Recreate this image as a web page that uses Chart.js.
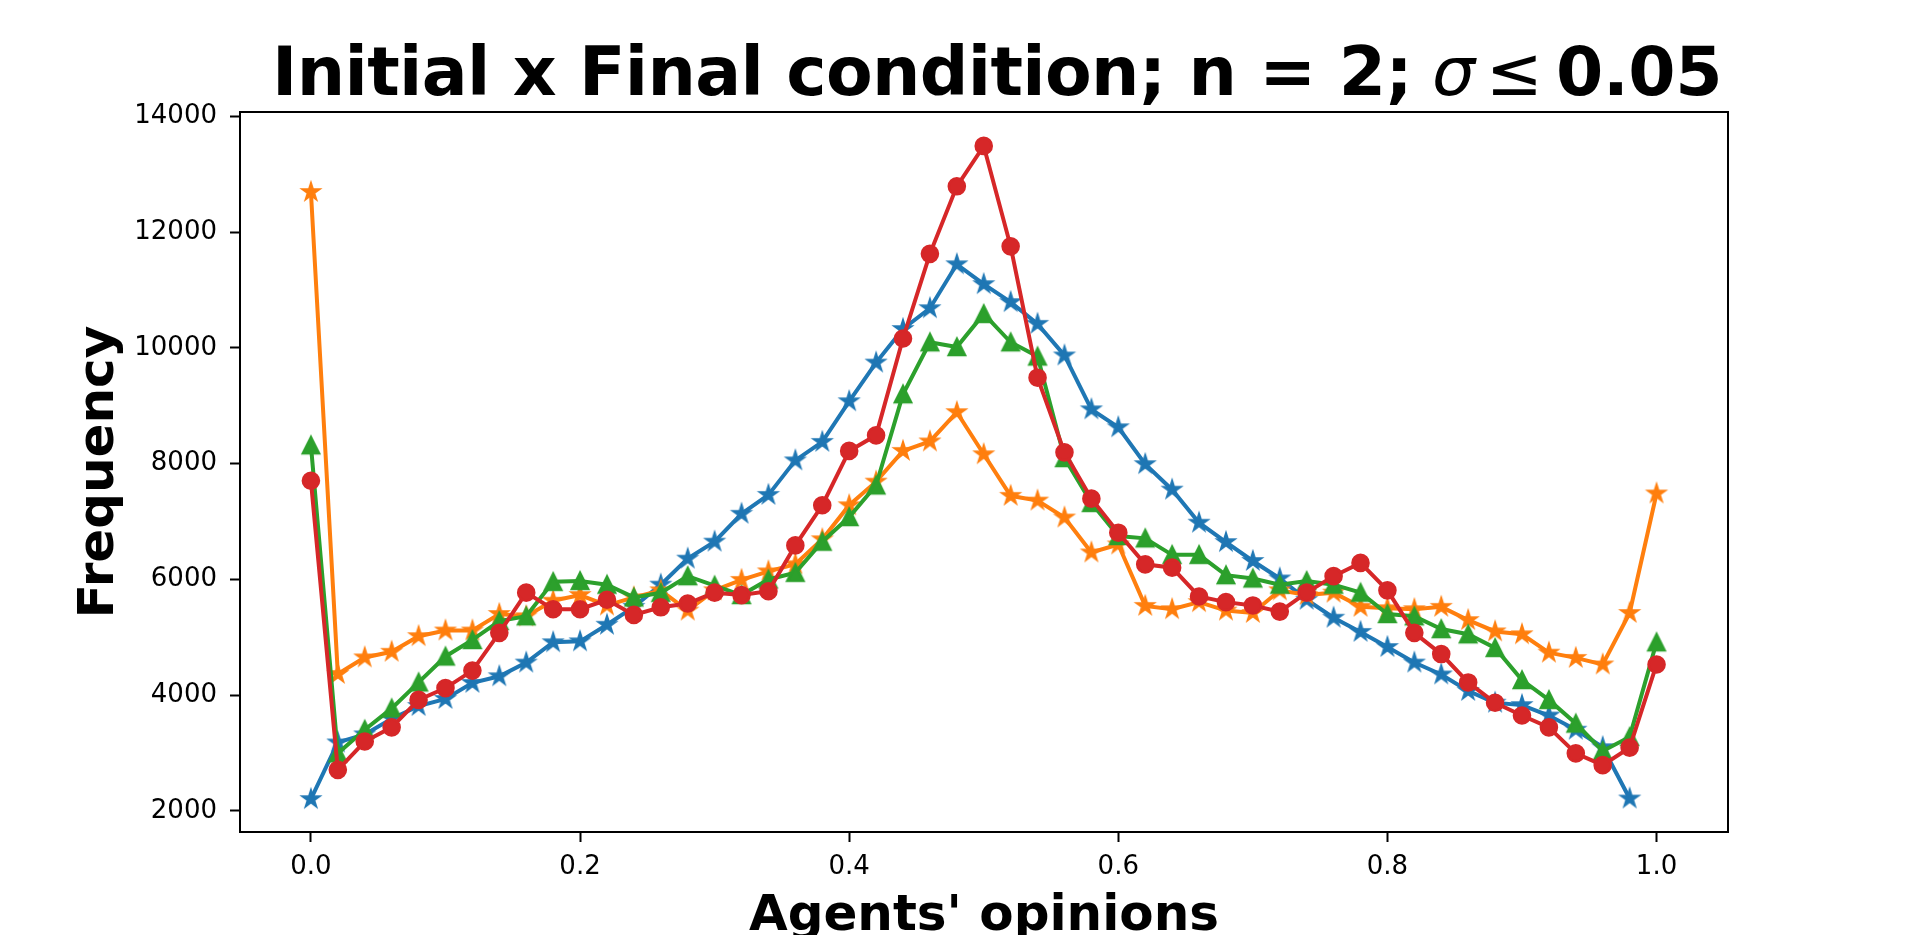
<!DOCTYPE html>
<html>
<head>
<meta charset="utf-8">
<title>Initial x Final condition</title>
<script src="https://cdn.jsdelivr.net/npm/chart.js@4.4.1/dist/chart.umd.min.js"></script>
<style>
  html, body { margin: 0; padding: 0; background: #fff; }
  canvas { display: block; }
</style>
</head>
<body>
<canvas id="myChart" width="1920" height="935"></canvas>
<script>
// bins of the opinion histogram
const opinions = [0.00, 0.02, 0.04, 0.06, 0.08, 0.10, 0.12, 0.14, 0.16, 0.18,
    0.20, 0.22, 0.24, 0.26, 0.28, 0.30, 0.32, 0.34, 0.36, 0.38,
    0.40, 0.42, 0.44, 0.46, 0.48, 0.50, 0.52, 0.54, 0.56, 0.58,
    0.60, 0.62, 0.64, 0.66, 0.68, 0.70, 0.72, 0.74, 0.76, 0.78,
    0.80, 0.82, 0.84, 0.86, 0.88, 0.90, 0.92, 0.94, 0.96, 0.98, 1.00];

const blueFreq = [2205, 3184, 3323, 3592, 3813, 3935, 4213, 4327, 4564, 4915,
    4931, 5217, 5527, 5910, 6359, 6653, 7135, 7461, 8057, 8376,
    9078, 9747, 10327, 10686, 11445, 11102, 10792, 10416, 9870, 8939,
    8629, 7992, 7551, 6980, 6645, 6319, 6017, 5649, 5339, 5094,
    4833, 4564, 4359, 4074, 3870, 3829, 3649, 3404, 3102, 2215, null];

const orangeFreq = [12694, 4367, 4653, 4751, 5020, 5118, 5118, 5404, 5364, 5633,
    5731, 5551, 5690, 5812, 5462, 5812, 5992, 6139, 6262, 6694,
    7282, 7690, 8221, 8384, 8890, 8163, 7445, 7363, 7070, 6466,
    6604, 5543, 5486, 5608, 5462, 5421, 5812, 5731, 5772, 5527,
    5503, 5486, 5527, 5298, 5102, 5053, 4735, 4645, 4531, 5421, 7486];

const greenFreq = [8318, 2996, 3404, 3772, 4221, 4670, 4955, 5282, 5364, 5959,
    5975, 5910, 5690, 5770, 6057, 5894, 5731, 6000, 6115, 6653,
    7078, 7625, 9200, 10098, 10016, 10588, 10098, 9853, 8098, 7323,
    6751, 6710, 6425, 6425, 6074, 6017, 5910, 5975, 5910, 5772,
    5404, 5364, 5143, 5053, 4817, 4262, 3919, 3511, 3037, 3280, 4915];

const redFreq = [7706, 2711, 3200, 3445, 3919, 4123, 4425, 5078, 5772, 5486,
    5486, 5649, 5388, 5519, 5584, 5772, 5730, 5796, 6588, 7282,
    8221, 8490, 10163, 11625, 12792, 13490, 11755, 9486, 8196, 7396,
    6808, 6261, 6204, 5706, 5608, 5551, 5445, 5772, 6057, 6286,
    5812, 5078, 4711, 4221, 3870, 3649, 3445, 2996, 2792, 3094, 4531];

const xTicks = [0.0, 0.2, 0.4, 0.6, 0.8, 1.0];
const xTickLabels = ['0.0', '0.2', '0.4', '0.6', '0.8', '1.0'];
const yTicks = [2000, 4000, 6000, 8000, 10000, 12000, 14000];

const colors = {
    blue: '#1f77b4',
    orange: '#ff7f0e',
    green: '#2ca02c',
    red: '#d62728',
};

// matplotlib-like '*' marker
function starMarker(color) {
    const c = document.createElement('canvas');
    c.width = 32;
    c.height = 32;
    const g = c.getContext('2d');
    g.translate(16, 16);
    g.beginPath();
    for (let k = 0; k < 10; k++) {
        const r = k % 2 === 0 ? 8 : 8 * 0.381966;
        const a = -Math.PI / 2 + k * Math.PI / 5;
        if (k === 0) g.moveTo(r * Math.cos(a), r * Math.sin(a));
        else g.lineTo(r * Math.cos(a), r * Math.sin(a));
    }
    g.closePath();
    g.fillStyle = color;
    g.fill();
    g.lineWidth = 2.6;
    g.lineJoin = 'miter';
    g.strokeStyle = color;
    g.stroke();
    return c;
}

// matplotlib-like '^' marker
function triangleMarker(color) {
    const c = document.createElement('canvas');
    c.width = 32;
    c.height = 32;
    const g = c.getContext('2d');
    g.translate(16, 16);
    g.beginPath();
    g.moveTo(0, -8);
    g.lineTo(-8, 8);
    g.lineTo(8, 8);
    g.closePath();
    g.fillStyle = color;
    g.fill();
    g.lineWidth = 2.6;
    g.lineJoin = 'miter';
    g.strokeStyle = color;
    g.stroke();
    return c;
}

function toPoints(values) {
    return opinions.map((x, i) => ({ x: x, y: values[i] }));
}

function makeDataset(values, color, marker, order) {
    const ds = {
        data: toPoints(values),
        borderColor: color,
        backgroundColor: color,
        borderWidth: 4,
        pointBackgroundColor: color,
        pointBorderColor: color,
        tension: 0,
        fill: false,
        spanGaps: false,
        order: order,
    };
    if (marker === 'circle') {
        ds.pointStyle = 'circle';
        ds.pointRadius = 8;
        ds.pointBorderWidth = 2.6;
    } else {
        ds.pointStyle = marker;
        ds.pointRadius = 9;
        ds.pointBorderWidth = 0;
    }
    return ds;
}

// title pieces: text, font, space before, wanted advance (0 = natural)
const titleParts = [
    { text: 'Initial x Final condition; n = 2;', font: 'bold 68px "DejaVu Sans"', before: 0, fit: 1140 },
    { text: 'σ', font: 'oblique 68px "DejaVu Sans"', before: 20, fit: 0 },
    { text: '≤', font: '68px "DejaVu Sans"', before: 11, fit: 0 },
    { text: '0.05', font: 'bold 68px "DejaVu Sans"', before: 13, fit: 166 },
];

const titlePlugin = {
    id: 'mplTitle',
    afterDraw(chart) {
        const ctx = chart.ctx;
        ctx.save();
        ctx.fillStyle = '#000';
        ctx.textBaseline = 'alphabetic';
        ctx.textAlign = 'left';
        let x = chart.chartArea.left + 32;
        titleParts.forEach(part => {
            ctx.font = part.font;
            ctx.letterSpacing = '0px';
            let w = ctx.measureText(part.text).width;
            if (part.fit) {
                const sp = (part.fit - w) / part.text.length;
                ctx.letterSpacing = sp.toFixed(2) + 'px';
                w = part.fit;
            }
            x += part.before;
            ctx.fillText(part.text, x, 95);
            x += w;
        });
        ctx.restore();
    }
};

const framePlugin = {
    id: 'axesFrame',
    afterDatasetsDraw(chart) {
        const a = chart.chartArea;
        const ctx = chart.ctx;
        ctx.save();
        ctx.strokeStyle = '#000';
        ctx.lineWidth = 2;
        ctx.strokeRect(a.left, a.top, a.right - a.left, a.bottom - a.top);
        ctx.restore();
    }
};

const tickFont = { family: 'DejaVu Sans', size: 26 };
const labelFont = { family: 'DejaVu Sans', size: 50, weight: 'bold' };

const ctx = document.getElementById('myChart').getContext('2d');
const myChart = new Chart(ctx, {
    type: 'line',
    data: {
        datasets: [
            makeDataset(blueFreq, colors.blue, starMarker(colors.blue), 3),
            makeDataset(orangeFreq, colors.orange, starMarker(colors.orange), 2),
            makeDataset(greenFreq, colors.green, triangleMarker(colors.green), 1),
            makeDataset(redFreq, colors.red, 'circle', 0),
        ],
    },
    options: {
        responsive: false,
        animation: false,
        devicePixelRatio: 1,
        layout: { padding: { top: 112, right: 192, left: 0, bottom: 0 } },
        plugins: {
            legend: { display: false },
            tooltip: { enabled: false },
            title: { display: false },
        },
        scales: {
            x: {
                type: 'linear',
                min: -0.0527,
                max: 1.0531,
                afterBuildTicks: scale => { scale.ticks = xTicks.map(v => ({ value: v })); },
                afterFit: scale => { scale.height = 103; },
                ticks: {
                    color: '#000',
                    font: tickFont,
                    padding: 10,
                    maxRotation: 0,
                    autoSkip: false,
                    callback: (value, index) => xTickLabels[index],
                },
                grid: {
                    display: true,
                    drawOnChartArea: false,
                    drawTicks: true,
                    tickLength: 10,
                    tickWidth: 2,
                    tickColor: '#000',
                },
                border: { display: false },
                title: {
                    display: true,
                    text: "Agents' opinions",
                    color: '#000',
                    font: labelFont,
                    padding: { top: 0, bottom: -12 },
                },
            },
            y: {
                type: 'linear',
                min: 1637,
                max: 14076,
                afterBuildTicks: scale => { scale.ticks = yTicks.map(v => ({ value: v })); },
                afterFit: scale => { scale.width = 240; },
                ticks: {
                    color: '#000',
                    font: tickFont,
                    padding: 13,
                    autoSkip: false,
                    callback: value => String(value),
                },
                grid: {
                    display: true,
                    drawOnChartArea: false,
                    drawTicks: true,
                    tickLength: 10,
                    tickWidth: 2,
                    tickColor: '#000',
                },
                border: { display: false },
                title: {
                    display: true,
                    text: 'Frequency',
                    color: '#000',
                    font: labelFont,
                    padding: { top: 70, bottom: 0 },
                },
            },
        },
    },
    plugins: [framePlugin, titlePlugin],
});
</script>
</body>
</html>
